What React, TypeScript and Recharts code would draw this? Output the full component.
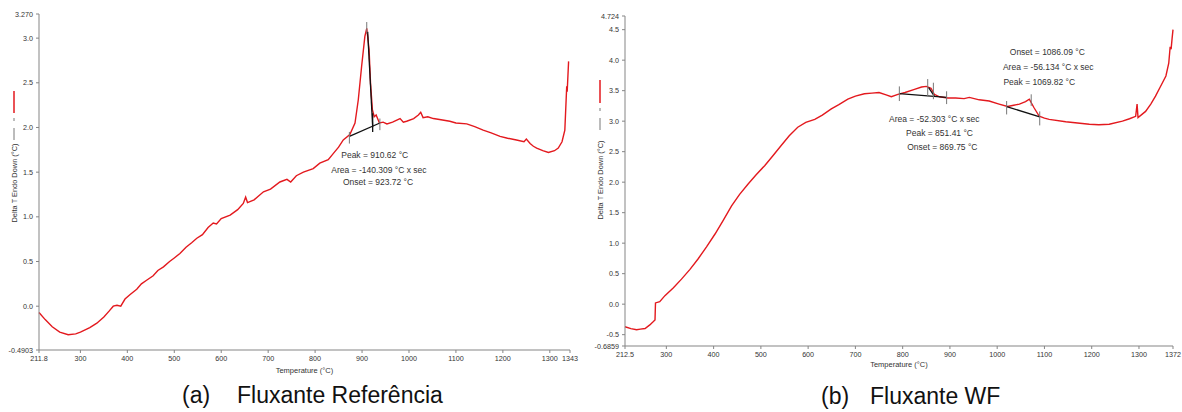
import React from 'react';
import { LineChart, Line, XAxis, YAxis, ReferenceLine, ReferenceDot } from 'recharts';

// (a) Fluxante Referência
const refTemp: number[] = [
  211.8, 225, 240, 256, 274, 290, 300, 320, 335, 350, 362, 370, 378, 386, 395, 406, 420, 430, 441, 455,
  465, 477, 490, 500, 512, 525, 537, 548, 560, 572, 583, 590, 600, 619, 635, 647, 652, 656, 670, 690,
  705, 725, 740, 748, 760, 775, 796, 810, 828, 839, 850, 860, 874, 885, 892, 899, 906, 910, 915, 918,
  922, 926, 930, 937, 945, 953, 965, 981, 988, 995, 1010, 1020, 1025, 1030, 1040, 1052, 1065, 1087, 1100, 1123,
  1140, 1158, 1175, 1194, 1210, 1229, 1245, 1250, 1258, 1265, 1272, 1285, 1297, 1310, 1318, 1326, 1332, 1336, 1337, 1340,
];
const refDelta: number[] = [
  -0.07, -0.15, -0.23, -0.29, -0.32, -0.31, -0.29, -0.24, -0.19, -0.12, -0.05, 0.0, 0.01, 0.0, 0.08, 0.13, 0.19, 0.25, 0.29, 0.34,
  0.4, 0.44, 0.5, 0.54, 0.59, 0.66, 0.71, 0.76, 0.8, 0.88, 0.93, 0.92, 0.98, 1.02, 1.08, 1.15, 1.22, 1.16, 1.19, 1.28,
  1.31, 1.39, 1.42, 1.39, 1.46, 1.5, 1.54, 1.6, 1.64, 1.71, 1.78, 1.86, 1.92, 2.05, 2.31, 2.68, 3.02, 3.11, 2.87, 2.5,
  2.2, 2.12, 2.14, 2.05, 2.06, 2.04, 2.06, 2.1, 2.06, 2.07, 2.1, 2.14, 2.17, 2.11, 2.12, 2.1, 2.09, 2.07, 2.05, 2.04,
  2.01, 1.97, 1.94, 1.9, 1.88, 1.86, 1.84, 1.87, 1.82, 1.79, 1.77, 1.74, 1.72, 1.74, 1.77, 1.84, 1.97, 2.46, 2.4, 2.74,
];
const refXTicks: number[] = [211.8, 300, 400, 500, 600, 700, 800, 900, 1000, 1100, 1200, 1300, 1343];
const refYTicks: number[] = [-0.4903, 0, 0.5, 1, 1.5, 2, 2.5, 3, 3.27];
const refYLabels: string[] = ['-0.4903', '0.0', '0.5', '1.0', '1.5', '2.0', '2.5', '3.0', '3.270'];
const refNotes: string[] = ['Peak = 910.62 °C', 'Area = -140.309 °C x sec', 'Onset = 923.72 °C'];
const refNoteX: number[] = [927, 936, 934];
const refNoteY: number[] = [1.69, 1.52, 1.39];

// (b) Fluxante WF
const wfTemp: number[] = [
  212.5, 225, 237, 245, 255, 265, 272, 276, 277, 286, 297, 315, 332, 350, 367, 385, 403, 420, 438, 455,
  473, 490, 508, 525, 543, 560, 578, 595, 614, 630, 649, 665, 684, 700, 719, 735, 750, 765, 776, 790,
  805, 825, 840, 850, 860, 867, 878, 895, 912, 930, 941, 962, 983, 1004, 1022, 1035, 1047, 1060, 1068, 1078,
  1089, 1100, 1110, 1145, 1170, 1195, 1215, 1237, 1265, 1280, 1293, 1296, 1298, 1314, 1325, 1335, 1345, 1357, 1363, 1366,
  1368, 1370, 1372,
];
const wfDelta: number[] = [
  -0.37, -0.4, -0.42, -0.41, -0.4, -0.34, -0.29, -0.26, 0.02, 0.04, 0.14, 0.27, 0.41, 0.57, 0.74, 0.94, 1.15, 1.37, 1.61, 1.8,
  1.97, 2.12, 2.27, 2.43, 2.6, 2.76, 2.9, 2.98, 3.03, 3.1, 3.2, 3.27, 3.36, 3.41, 3.45, 3.46, 3.47, 3.43, 3.4, 3.44,
  3.47, 3.52, 3.56, 3.57, 3.54, 3.44, 3.4, 3.38, 3.38, 3.37, 3.39, 3.35, 3.33, 3.28, 3.24, 3.26, 3.28, 3.32, 3.36, 3.22,
  3.08, 3.05, 3.03, 2.99, 2.97, 2.95, 2.94, 2.95, 3.0, 3.04, 3.08, 3.28, 3.06, 3.16, 3.28, 3.41, 3.56, 3.74, 3.95, 4.22,
  4.18, 4.35, 4.5,
];
const wfXTicks: number[] = [212.5, 300, 400, 500, 600, 700, 800, 900, 1000, 1100, 1200, 1300, 1372];
const wfYTicks: number[] = [-0.6859, -0.5, 0, 0.5, 1, 1.5, 2, 2.5, 3, 3.5, 4, 4.5, 4.724];
const wfYLabels: string[] = ['-0.6859', '-0.5', '0.0', '0.5', '1.0', '1.5', '2.0', '2.5', '3.0', '3.5', '4.0', '4.5', '4.724'];
const wfNotes: string[] = [
  'Area = -52.303 °C x sec', 'Peak = 851.41 °C', 'Onset = 869.75 °C',
  'Onset = 1086.09 °C', 'Area = -56.134 °C x sec', 'Peak = 1069.82 °C',
];
const wfNoteX: number[] = [867, 878, 884, 1106, 1108, 1089];
const wfNoteY: number[] = [3.03, 2.8, 2.58, 4.14, 3.89, 3.64];

// analysis lines drawn by the instrument software: [x1, y1, x2, y2]
const refBaselines: number[][] = [
  [873, 1.9, 938, 2.05],
  [912, 3.07, 922.6, 2.01],
  [922.6, 2.16, 922.6, 1.95],
];
const refMarks: number[][] = [
  [873, 1.95, 873, 1.82],
  [938, 2.1, 938, 1.97],
  [910, 3.18, 910, 3.05],
];
const wfBaselines: number[][] = [
  [793, 3.45, 893, 3.39],
  [855, 3.55, 867, 3.41],
  [1020, 3.24, 1090, 3.07],
];
const wfMarks: number[][] = [
  [793, 3.57, 793, 3.33],
  [853, 3.69, 853, 3.41],
  [865, 3.63, 865, 3.36],
  [893, 3.49, 893, 3.28],
  [1020, 3.33, 1020, 3.11],
  [1072, 3.44, 1072, 3.25],
  [1090, 3.16, 1090, 2.93],
];

const FONT = '"Liberation Sans", Arial, sans-serif';
const RED = '#e3191e';
const AXIS = '#858585';
const TEXT = '#333';

type PanelProps = {
  temp: number[];
  delta: number[];
  xTicks: number[];
  yTicks: number[];
  yLabels: string[];
  notes: string[];
  noteX: number[];
  noteY: number[];
  baselines: number[][];
  marks: number[][];
  width: number;
  height: number;
  yAxisWidth: number;
  margin: { top: number; right: number; bottom: number; left: number };
  labelOffset: number;
};

const Panel = (p: PanelProps) => {
  const data = p.temp.map((t, i) => ({ t, v: p.delta[i] }));
  const tickStyle = { fontSize: 7.2, fill: TEXT, fontFamily: FONT };
  const fmtY = (v: number) => {
    const i = p.yTicks.indexOf(v);
    return i >= 0 ? p.yLabels[i] : String(v);
  };
  return (
    <LineChart width={p.width} height={p.height} data={data} margin={p.margin}>
      <XAxis
        dataKey="t"
        type="number"
        domain={[p.xTicks[0], p.xTicks[p.xTicks.length - 1]]}
        ticks={p.xTicks}
        interval={0}
        height={30}
        tickSize={3}
        tickMargin={3}
        stroke={AXIS}
        tick={tickStyle}
        label={{ value: 'Temperature (°C)', position: 'insideBottom', offset: p.labelOffset, fontSize: 7.5, fill: TEXT, fontFamily: FONT }}
      />
      <YAxis
        type="number"
        domain={[p.yTicks[0], p.yTicks[p.yTicks.length - 1]]}
        ticks={p.yTicks}
        interval={0}
        width={p.yAxisWidth}
        tickSize={3}
        tickMargin={3}
        stroke={AXIS}
        tick={tickStyle}
        tickFormatter={fmtY}
      />
      <Line type="linear" dataKey="v" stroke={RED} strokeWidth={1.4} dot={false} isAnimationActive={false} />
      {p.baselines.map((s, i) => (
        <ReferenceLine key={'b' + i} segment={[{ x: s[0], y: s[1] }, { x: s[2], y: s[3] }]} stroke="#111" strokeWidth={1.3} />
      ))}
      {p.marks.map((s, i) => (
        <ReferenceLine key={'m' + i} segment={[{ x: s[0], y: s[1] }, { x: s[2], y: s[3] }]} stroke="#777" strokeWidth={1} />
      ))}
      {p.notes.map((n, i) => (
        <ReferenceDot
          key={'n' + i}
          x={p.noteX[i]}
          y={p.noteY[i]}
          r={0}
          fill="none"
          stroke="none"
          label={{ value: n, position: 'center', fontSize: 8.5, fill: TEXT, fontFamily: FONT }}
        />
      ))}
    </LineChart>
  );
};

const YTitle = ({ x, cy, redTop, redBottom }: { x: number; cy: number; redTop: number; redBottom: number }) => (
  <g>
    <text
      x={x}
      y={cy}
      transform={`rotate(-90 ${x} ${cy})`}
      textAnchor="middle"
      dominantBaseline="central"
      fontSize={7.4}
      fill={TEXT}
      fontFamily={FONT}
    >
      Delta T Endo Down (°C)
    </text>
    <line x1={x} x2={x} y1={redBottom + 15} y2={redBottom + 27} stroke="#555" strokeWidth={0.8} />
    <line x1={x} x2={x} y1={redBottom + 5} y2={redBottom + 8} stroke="#555" strokeWidth={0.8} />
    <line x1={x} x2={x} y1={redTop} y2={redBottom} stroke={RED} strokeWidth={1.5} />
  </g>
);

const App = () => {
  return (
    <div style={{ position: 'absolute', left: 0, top: 0, width: 1182, height: 412, background: '#fff' }}>
      <div style={{ position: 'absolute', left: 0, top: 0 }}>
        <Panel
          temp={refTemp}
          delta={refDelta}
          xTicks={refXTicks}
          yTicks={refYTicks}
          yLabels={refYLabels}
          notes={refNotes}
          noteX={refNoteX}
          noteY={refNoteY}
          baselines={refBaselines}
          marks={refMarks}
          width={590}
          height={380}
          yAxisWidth={39}
          margin={{ top: 14, right: 20, bottom: 0, left: 0 }}
          labelOffset={7}
        />
      </div>
      <div style={{ position: 'absolute', left: 590, top: 0 }}>
        <Panel
          temp={wfTemp}
          delta={wfDelta}
          xTicks={wfXTicks}
          yTicks={wfYTicks}
          yLabels={wfYLabels}
          notes={wfNotes}
          noteX={wfNoteX}
          noteY={wfNoteY}
          baselines={wfBaselines}
          marks={wfMarks}
          width={592}
          height={376}
          yAxisWidth={35}
          margin={{ top: 16, right: 9, bottom: 0, left: 0 }}
          labelOffset={9}
        />
      </div>
      <svg width={1182} height={412} style={{ position: 'absolute', left: 0, top: 0, pointerEvents: 'none' }}>
        <YTitle x={14} cy={183} redTop={91} redBottom={113} />
        <YTitle x={600} cy={180} redTop={80} redBottom={103} />
        <g fontFamily={FONT} fontSize={23} fill="#111">
          <text x={182} y={403}>(a)</text>
          <text x={237} y={403}>Fluxante Referência</text>
          <text x={821} y={404}>(b)</text>
          <text x={870} y={404}>Fluxante WF</text>
        </g>
      </svg>
    </div>
  );
};

export default App;
